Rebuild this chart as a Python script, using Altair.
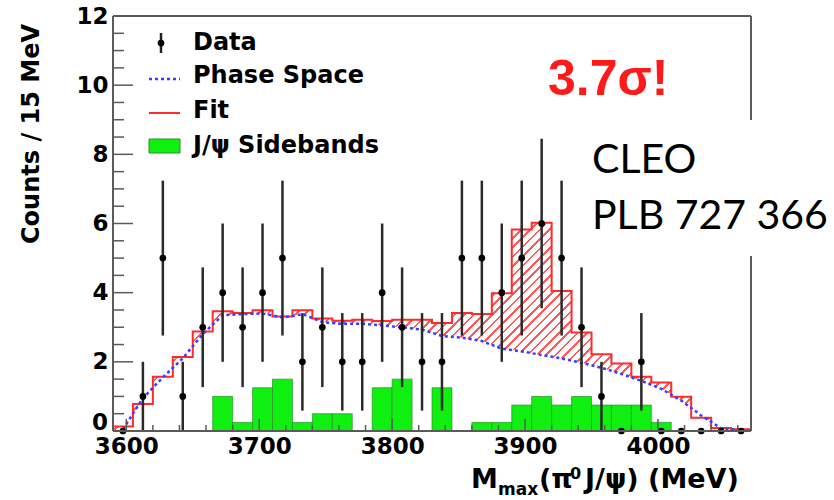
import altair as alt
import pandas as pd

# ---------------- data ----------------
bin_start = 3590          # MeV, left edge of first bin
bin_width = 15            # MeV per bin

counts = [0, 1, 5, 1, 3, 4, 3, 4, 5, 2, 3, 2, 2, 4, 3, 2,
          2, 5, 5, 4, 5, 6, 5, 3, 1, 0, 2, 0, 0, 0, 0, 0]
count_err = [0, 1, 2.24, 1, 1.73, 2, 1.73, 2, 2.24, 1.41, 1.73, 1.41, 1.41, 2, 1.73, 1.41,
             1.41, 2.24, 2.24, 2, 2.24, 2.45, 2.24, 1.73, 1, 0, 1.41, 0, 0, 0, 0, 0]
phase_space = [0.05, 0.95, 1.55, 2.1, 2.8, 3.35, 3.38, 3.4, 3.28, 3.38, 3.15, 3.1, 3.1, 3.05, 3.0, 2.93,
               2.75, 2.7, 2.6, 2.38, 2.3, 2.2, 2.1, 1.97, 1.83, 1.65, 1.45, 1.22, 0.88, 0.45, 0.08, 0.02]
fit_total = [0.13, 0.78, 1.57, 2.14, 2.88, 3.46, 3.41, 3.49, 3.31, 3.49, 3.25, 3.19, 3.22, 3.18, 3.22, 3.22,
             3.12, 3.41, 3.38, 3.98, 5.83, 6.02, 4.05, 2.85, 2.22, 1.95, 1.57, 1.4, 0.99, 0.38, 0.09, 0.05]
sidebands = [0, 0, 0, 0, 0, 1, 0.25, 1.25, 1.5, 0.25, 0.5, 0.5, 0, 1.25, 1.5, 0,
             1.25, 0, 0.25, 0.25, 0.75, 1.0, 0.75, 1.0, 0.75, 0.75, 0.75, 0.25, 0, 0, 0, 0]

x_ticks_major = [3600, 3700, 3800, 3900, 4000]
x_ticks_minor = [3620, 3640, 3660, 3680, 3720, 3740, 3760, 3780, 3820, 3840, 3860, 3880,
                 3920, 3940, 3960, 3980, 4020, 4040, 4060]
y_ticks_major = [0, 2, 4, 6, 8, 10, 12]
y_ticks_minor = [0.5, 1, 1.5, 2.5, 3, 3.5, 4.5, 5, 5.5, 6.5, 7, 7.5, 8.5, 9, 9.5, 10.5, 11, 11.5]

legend_labels = ["Data", "Phase Space", "Fit", "J/ψ Sidebands"]

# ---------------- layout / style ----------------
W, H = 638, 415
XDOM = [3590, 4070]
YDOM = [0, 12]
RED = "#ff2a2a"
BLUE = "#3b3bff"
GREEN = "#10f010"
FRAME = "#5a5a5a"
BOLD = "DejaVu Sans"

n = len(counts)
lo = [bin_start + i * bin_width for i in range(n)]
hi = [v + bin_width for v in lo]
ctr = [v + bin_width / 2 for v in lo]

hist_df = pd.DataFrame({"lo": lo, "hi": hi, "ctr": ctr, "counts": counts, "err": count_err,
                        "ps": phase_space, "fit": fit_total, "sb": sidebands})
hist_df["elo"] = hist_df["counts"] - hist_df["err"]
hist_df["ehi"] = hist_df["counts"] + hist_df["err"]
step_df = pd.DataFrame({"edge": lo + [hi[-1]], "fit": fit_total + [fit_total[-1]]})

xs = alt.Scale(domain=XDOM, nice=False, zero=False)
ys = alt.Scale(domain=YDOM, nice=False, zero=False)
x_axis = alt.Axis(values=x_ticks_major, format="d", title=None, labelFont=BOLD,
                  labelFontWeight="bold", labelFontSize=23, labelColor="black",
                  ticks=False, domain=False, grid=False, labelPadding=4, labelFlush=False)
# the "0" label is drawn separately (raised, as in the reference)
y_axis = alt.Axis(values=y_ticks_major[1:], format="d", title=None, labelFont=BOLD,
                  labelFontWeight="bold", labelFontSize=23, labelColor="black",
                  ticks=False, domain=False, grid=False, labelPadding=5, labelFlush=False)


def X(f):
    return alt.X(f, scale=xs, axis=x_axis)


def Y(f):
    return alt.Y(f, scale=ys, axis=y_axis)


# hatch gradient (diagonal stripes)
hatch_h = max(fit_total) / YDOM[1] * H
k = (W + hatch_h) / (W * W + hatch_h * hatch_h)
N = 90
frac = 0.28
stops = []
for i in range(N):
    a, b, c = i / N, (i + frac) / N, (i + 1) / N
    stops += [{"offset": a, "color": "#ff5a5a"}, {"offset": b, "color": "#ff5a5a"},
              {"offset": b, "color": "#ffffff"}, {"offset": c, "color": "#ffffff"}]
hatch = {"gradient": "linear", "x1": 0, "y1": 0, "x2": k * W, "y2": k * hatch_h, "stops": stops}

hatch_area = alt.Chart(step_df).mark_area(interpolate="step-after", color=hatch).encode(
    x=X("edge:Q"), y=Y("fit:Q"))
white_cover = alt.Chart(hist_df).mark_area(color="white").encode(
    x=X("ctr:Q"), y=Y("ps:Q"))
green_bars = alt.Chart(hist_df).transform_filter("datum.sb > 0").mark_rect(
    color=GREEN, stroke="#2e8b2e", strokeWidth=0.7).encode(
    x=X("lo:Q"), x2="hi:Q", y=Y("sb:Q"), y2=alt.datum(0))
fit_line = alt.Chart(step_df).mark_line(interpolate="step-after", color=RED, strokeWidth=2).encode(
    x=X("edge:Q"), y=Y("fit:Q"))
ps_line = alt.Chart(hist_df).mark_line(color=BLUE, strokeDash=[3, 3], strokeWidth=2.5).encode(
    x=X("ctr:Q"), y=Y("ps:Q"))
err_bars = alt.Chart(hist_df).transform_filter("datum.err > 0").mark_rule(
    color="#2a2a2a", strokeWidth=2.5).encode(x=X("ctr:Q"), y=Y("elo:Q"), y2="ehi:Q")
points = alt.Chart(hist_df).mark_circle(color="black", size=45, opacity=1).encode(
    x=X("ctr:Q"), y=Y("counts:Q"))

# axis ticks drawn inside the frame
ytm = alt.Chart(pd.DataFrame({"v": y_ticks_major})).mark_rule(color=FRAME, strokeWidth=1.5).encode(
    y=Y("v:Q"), x=alt.value(0), x2=alt.value(20))
ytn = alt.Chart(pd.DataFrame({"v": y_ticks_minor})).mark_rule(color=FRAME, strokeWidth=1.5).encode(
    y=Y("v:Q"), x=alt.value(0), x2=alt.value(11))
xtm = alt.Chart(pd.DataFrame({"v": x_ticks_major})).mark_rule(color=FRAME, strokeWidth=1.5).encode(
    x=X("v:Q"), y=alt.value(H), y2=alt.value(H - 12))
xtn = alt.Chart(pd.DataFrame({"v": x_ticks_minor})).mark_rule(color=FRAME, strokeWidth=1.5).encode(
    x=X("v:Q"), y=alt.value(H), y2=alt.value(H - 6))

one = pd.DataFrame({"a": [0]})
frame = [
    alt.Chart(one).mark_rule(color=FRAME, strokeWidth=2).encode(x=alt.value(0), y=alt.value(0), y2=alt.value(H)),
    alt.Chart(one).mark_rule(color=FRAME, strokeWidth=2).encode(x=alt.value(W), y=alt.value(0), y2=alt.value(H)),
    alt.Chart(one).mark_rule(color=FRAME, strokeWidth=2).encode(y=alt.value(0), x=alt.value(0), x2=alt.value(W)),
    alt.Chart(one).mark_rule(color=FRAME, strokeWidth=2).encode(y=alt.value(H), x=alt.value(0), x2=alt.value(W)),
]

white_box = alt.Chart(one).mark_rect(color="white").encode(
    x=alt.value(462), x2=alt.value(721), y=alt.value(104), y2=alt.value(240))


def text(s, x, y, size, color="black", font=BOLD, weight="bold", align="left", baseline="alphabetic", angle=0):
    kw = dict(text=s, font=font, fontSize=size, color=color, align=align, baseline=baseline)
    if weight:
        kw["fontWeight"] = weight
    if angle:
        kw["angle"] = angle
    return alt.Chart(one).mark_text(**kw).encode(x=alt.value(x), y=alt.value(y))


# legend
leg_base = [34, 67, 102, 137]
legend = [text(lbl, 80, yb, 24) for lbl, yb in zip(legend_labels, leg_base)]
legend += [
    alt.Chart(one).mark_rule(color="#222222", strokeWidth=2.5).encode(x=alt.value(48), y=alt.value(17), y2=alt.value(37)),
    alt.Chart(one).mark_circle(color="black", size=45, opacity=1).encode(x=alt.value(48), y=alt.value(27)),
    alt.Chart(one).mark_rule(color=BLUE, strokeDash=[3, 3], strokeWidth=2.5).encode(x=alt.value(36), x2=alt.value(67), y=alt.value(63)),
    alt.Chart(one).mark_rule(color=RED, strokeWidth=2).encode(x=alt.value(36), x2=alt.value(67), y=alt.value(97)),
    alt.Chart(one).mark_rect(color=GREEN, stroke="#2e8b2e", strokeWidth=1).encode(
        x=alt.value(36), x2=alt.value(67), y=alt.value(123), y2=alt.value(137)),
]

annotations = [
    text("3.7σ!", 435, 79, 50, color="#ff1a1a", font="Liberation Sans"),
    text("CLEO", 479, 157, 41, font="Lato", weight=None),
    text("PLB 727 366", 479, 213, 41, font="Lato", weight=None),
    # raised "0" tick label of the y axis
    text("0", -5, H - 8, 23, align="right", baseline="middle"),
    # y title
    text("Counts / 15 MeV", -81, 118, 24, align="center", baseline="middle", angle=270),
    # x title pieces
    text("M", 358, 472, 27),
    text("max", 385, 479, 17),
    text("(π", 426, 472, 27),
    text("0", 457, 463, 16),
    text("J/ψ) (MeV)", 472, 472, 27),
]

chart = alt.layer(
    hatch_area, white_cover, green_bars, fit_line, ps_line, err_bars, points,
    ytm, ytn, xtm, xtn, *frame, white_box, *legend, *annotations
).properties(
    width=W, height=H,
    padding={"left": 113, "top": 16, "right": 83, "bottom": 69},
    autosize=alt.AutoSizeParams(type="none"),
    background="white",
).configure_view(stroke="transparent")

chart.save("out.html", embed_options={"renderer": "svg", "actions": False})
